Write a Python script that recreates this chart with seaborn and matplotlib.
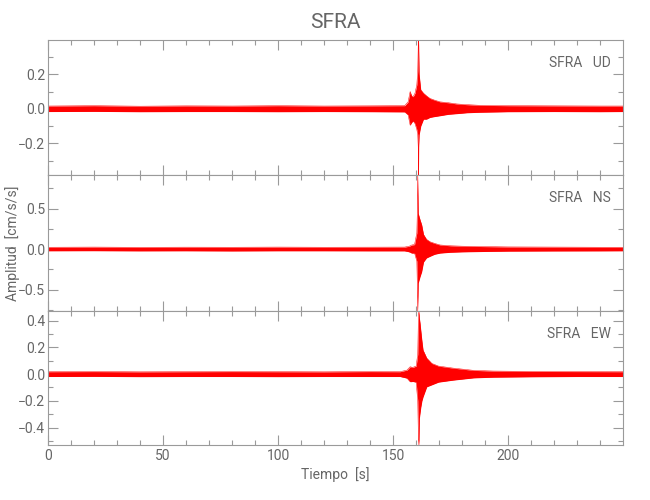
import matplotlib
matplotlib.use("Agg")
import matplotlib.pyplot as plt
import seaborn as sns
import pandas as pd
from matplotlib.ticker import MultipleLocator

# Datos: envolvente (max / min) de cada componente
station = "SFRA"
components = ["UD", "NS", "EW"]

t_ud = [0, 20, 40, 60, 80, 100, 120, 140, 155, 156.5, 157.4, 158.0, 158.7, 159.5, 160.3,
        160.7, 160.9, 161.0, 161.1, 161.3, 162.0, 163.2, 164.5, 166.0, 168.0, 170.4,
        174.0, 177.7, 182.0, 187.8, 200, 220, 240, 250]
up_ud = [0.016, 0.018, 0.015, 0.017, 0.016, 0.018, 0.016, 0.017, 0.018, 0.040, 0.100, 0.075,
         0.070, 0.090, 0.140, 0.220, 0.360, 0.398, 0.360, 0.200, 0.110, 0.090, 0.075, 0.060,
         0.050, 0.040, 0.035, 0.028, 0.024, 0.020, 0.018, 0.017, 0.016, 0.016]
low_ud = [-0.016, -0.015, -0.017, -0.016, -0.016, -0.017, -0.016, -0.017, -0.018, -0.035,
          -0.095, -0.080, -0.070, -0.085, -0.120, -0.150, -0.220, -0.383, -0.220, -0.150,
          -0.100, -0.060, -0.060, -0.050, -0.045, -0.040, -0.032, -0.028, -0.023, -0.020,
          -0.017, -0.016, -0.017, -0.016]

t_ns = [0, 20, 40, 60, 80, 100, 120, 140, 155, 157.0, 158.1, 159.3, 160.3, 160.5, 160.7,
        160.9, 161.7, 162.4, 163.2, 164.5, 166.0, 168.0, 170.4, 175.0, 180.0, 190, 200,
        220, 240, 250]
up_ns = [0.022, 0.024, 0.021, 0.023, 0.022, 0.024, 0.022, 0.023, 0.024, 0.035, 0.050, 0.055,
         0.200, 0.440, 0.914, 0.440, 0.360, 0.300, 0.180, 0.120, 0.090, 0.070, 0.050, 0.040,
         0.035, 0.030, 0.026, 0.024, 0.022, 0.022]
low_ns = [-0.022, -0.021, -0.023, -0.022, -0.024, -0.022, -0.022, -0.023, -0.023, -0.035,
          -0.050, -0.050, -0.150, -0.420, -0.765, -0.420, -0.340, -0.280, -0.160, -0.110,
          -0.090, -0.065, -0.050, -0.040, -0.035, -0.030, -0.026, -0.024, -0.023, -0.022]

t_ew = [0, 20, 40, 60, 80, 100, 120, 140, 153, 156.0, 157.4, 158.5, 160.0, 160.7, 161.0,
        161.2, 161.4, 161.7, 162.0, 162.5, 163.0, 164.6, 166.8, 169.7, 176.0, 185.0,
        193.5, 210, 230, 250]
up_ew = [0.018, 0.019, 0.017, 0.018, 0.019, 0.018, 0.017, 0.019, 0.018, 0.030, 0.055, 0.050,
         0.060, 0.150, 0.440, 0.472, 0.420, 0.380, 0.330, 0.250, 0.180, 0.120, 0.080, 0.060,
         0.045, 0.028, 0.023, 0.020, 0.019, 0.018]
low_ew = [-0.018, -0.017, -0.019, -0.018, -0.018, -0.019, -0.018, -0.018, -0.018, -0.030,
          -0.057, -0.055, -0.060, -0.200, -0.490, -0.530, -0.330, -0.290, -0.250, -0.200,
          -0.170, -0.095, -0.080, -0.060, -0.045, -0.028, -0.023, -0.020, -0.018, -0.018]

ylims = [(-0.383, 0.398), (-0.765, 0.914), (-0.530, 0.472)]
y_major = [0.2, 0.5, 0.2]
y_minor = [0.1, 0.25, 0.1]

traces = {"UD": (t_ud, up_ud, low_ud), "NS": (t_ns, up_ns, low_ns), "EW": (t_ew, up_ew, low_ew)}

sns.set_style("ticks")
plt.rcParams["font.family"] = ["Roboto", "DejaVu Sans"]
gray = "#666666"
axis_gray = "#9a9a9a"

fig = plt.figure(figsize=(6.5, 5), dpi=100)
W, H = 650, 500
left, right = 48, 623
edges = [40, 175, 311, 445]

axes = []
for i, comp in enumerate(components):
    top, bot = edges[i], edges[i + 1]
    ax = fig.add_axes([left / W, 1 - bot / H, (right - left) / W, (bot - top) / H])
    axes.append(ax)
    t, up, low = traces[comp]
    df = pd.DataFrame({"t": t + t, "amp": up + low,
                       "lado": ["max"] * len(t) + ["min"] * len(t)})
    ax.fill_between(t, up, low, color="red", lw=0)
    sns.lineplot(data=df, x="t", y="amp", units="lado", estimator=None,
                 color="red", lw=0.35, ax=ax)
    ax.set_xlim(0, 249.9)
    ax.set_ylim(*ylims[i])
    ax.xaxis.set_major_locator(MultipleLocator(50))
    ax.xaxis.set_minor_locator(MultipleLocator(10))
    ax.yaxis.set_major_locator(MultipleLocator(y_major[i]))
    ax.yaxis.set_minor_locator(MultipleLocator(y_minor[i]))
    ax.tick_params(which="both", direction="in", top=True, right=True,
                   color=axis_gray, width=0.8, labelcolor=gray, labelsize=10)
    ax.tick_params(which="major", length=7)
    ax.tick_params(which="minor", length=3.6)
    ax.tick_params(axis="y", pad=2)
    ax.tick_params(axis="x", pad=3)
    for s in ax.spines.values():
        s.set_color(axis_gray)
        s.set_linewidth(0.8)
    ax.set_xlabel("")
    ax.set_ylabel("")
    if i < 2:
        ax.tick_params(axis="x", labelbottom=False)
    ax.text(0.979, 0.88, f"{station}   {comp}", transform=ax.transAxes,
            ha="right", va="top", fontsize=10, color=gray)

axes[0].set_title(station, fontsize=15, color=gray, pad=9)
axes[2].set_xlabel("Tiempo  [s]", fontsize=10, color=gray, labelpad=3)
fig.text(13 / W, 1 - 243 / H, "Amplitud  [cm/s/s]", rotation=90, ha="center",
         va="center", fontsize=10, color=gray)

fig.savefig("out.png", dpi=100)
